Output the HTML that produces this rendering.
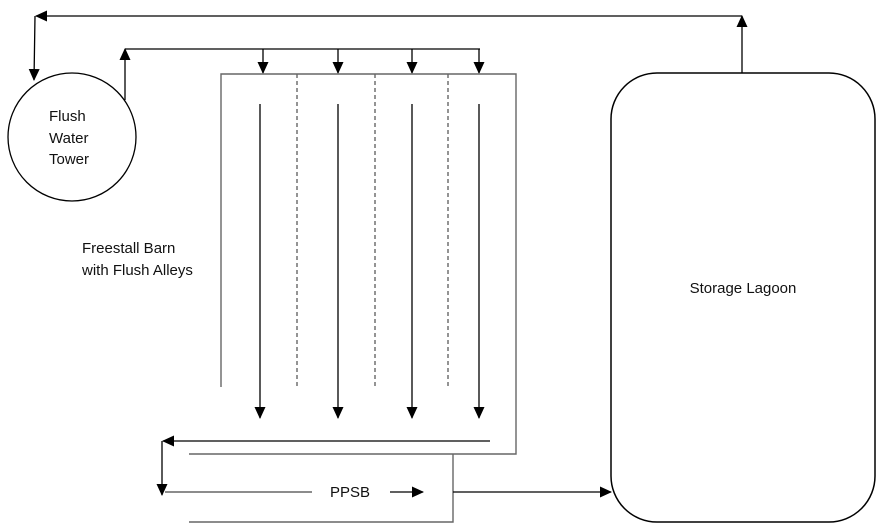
<!DOCTYPE html>
<html><head><meta charset="utf-8"><style>
html,body{margin:0;padding:0;background:#fff}
svg{display:block}
text{font-family:"Liberation Sans",sans-serif;fill:#111}
</style></head><body>
<svg width="882" height="528" viewBox="0 0 882 528" xmlns="http://www.w3.org/2000/svg">
<defs>
<marker id="a" markerWidth="12" markerHeight="12" refX="11" refY="6" orient="auto" markerUnits="userSpaceOnUse">
<path d="M0,0.5 L12,6 L0,11.5 z" fill="#000"/></marker>
</defs>
<g stroke="#000" stroke-width="1.3" fill="none">
<line x1="742" y1="73" x2="742" y2="16" marker-end="url(#a)"/>
<line x1="742" y1="16" x2="36" y2="16" marker-end="url(#a)"/>
<line x1="35" y1="16" x2="34" y2="80" marker-end="url(#a)"/>
<circle cx="72" cy="137" r="64"/>
<line x1="125" y1="100" x2="125" y2="49" marker-end="url(#a)"/>
<line x1="125" y1="49" x2="480" y2="49"/>
<line x1="263" y1="49" x2="263" y2="73" marker-end="url(#a)"/>
<line x1="338" y1="49" x2="338" y2="73" marker-end="url(#a)"/>
<line x1="412" y1="49" x2="412" y2="73" marker-end="url(#a)"/>
<line x1="479" y1="49" x2="479" y2="73" marker-end="url(#a)"/>
</g>
<g stroke="#666" stroke-width="1.4" fill="none">
<polyline points="221,387 221,74 516,74 516,454 189,454"/>
<line x1="297" y1="74" x2="297" y2="387" stroke-dasharray="4,3"/>
<line x1="375" y1="74" x2="375" y2="387" stroke-dasharray="4,3"/>
<line x1="448" y1="74" x2="448" y2="387" stroke-dasharray="4,3"/>
<polyline points="189,522 453,522 453,454"/>
<line x1="165" y1="492" x2="312" y2="492"/>
</g>
<g stroke="#000" stroke-width="1.3" fill="none">
<line x1="260" y1="104" x2="260" y2="418" marker-end="url(#a)"/>
<line x1="338" y1="104" x2="338" y2="418" marker-end="url(#a)"/>
<line x1="412" y1="104" x2="412" y2="418" marker-end="url(#a)"/>
<line x1="479" y1="104" x2="479" y2="418" marker-end="url(#a)"/>
<line x1="490" y1="441" x2="163" y2="441" marker-end="url(#a)"/>
<line x1="162" y1="441" x2="162" y2="495" marker-end="url(#a)"/>
<line x1="390" y1="492" x2="423" y2="492" marker-end="url(#a)"/>
<line x1="453" y1="492" x2="611" y2="492" marker-end="url(#a)"/>
<rect x="611" y="73" width="264" height="449" rx="46" ry="46" stroke-width="1.5"/>
</g>
<text x="49" y="121" font-size="15">Flush</text>
<text x="49" y="143" font-size="15">Water</text>
<text x="49" y="164" font-size="15">Tower</text>
<text x="82" y="253" font-size="15">Freestall Barn</text>
<text x="82" y="275" font-size="15">with Flush Alleys</text>
<text x="743" y="293" font-size="15" text-anchor="middle">Storage Lagoon</text>
<text x="350" y="497" font-size="15" text-anchor="middle">PPSB</text>
</svg>
</body></html>
